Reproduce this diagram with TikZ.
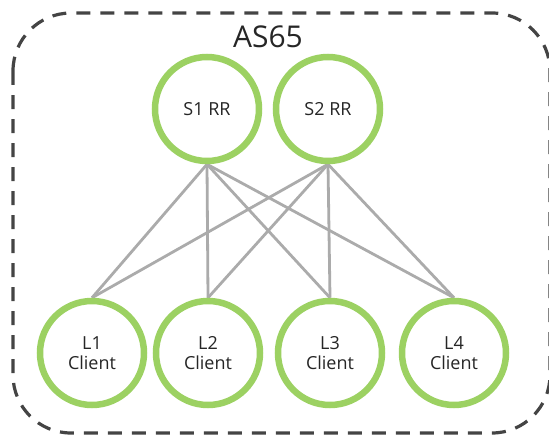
\documentclass[tikz,border=0pt]{standalone}
\usepackage{fontspec}
\setmainfont{Open Sans}
\usetikzlibrary{backgrounds}
\definecolor{ringgreen}{HTML}{9CD162}
\definecolor{linkgray}{HTML}{ABABAB}
\definecolor{dashgray}{HTML}{444444}
\begin{document}
\begin{tikzpicture}[x=1pt,y=-1pt,
  router/.style={circle,draw=ringgreen,line width=6.5pt,fill=white,minimum size=104pt,inner sep=0pt,align=center,font=\fontsize{18}{20.5}\selectfont,text=black!85},
  link/.style={draw=linkgray,line width=2.8pt}]
\useasboundingbox (0,0) rectangle (549,436);
\node[font=\fontsize{30}{34}\selectfont,text=black!85] (title) at (268,37) {AS65};
\node[router] (S1) at (207,109) {S1 RR};
\node[router] (S2) at (328,109) {S2 RR};
\node[router] (L1) at (92,353) {L1\\Client};
\node[router] (L2) at (208,353) {L2\\Client};
\node[router] (L3) at (330,353) {L3\\Client};
\node[router] (L4) at (454,353) {L4\\Client};
\begin{scope}[on background layer]
\draw[dashgray,line width=3.2pt,dash pattern=on 14pt off 10pt,rounded corners=58pt] (13,13) rectangle (550,433);
\foreach \s in {S1,S2}{
  \foreach \l in {L1,L2,L3,L4}{
    \draw[link] (\s.south) -- (\l.north);
  }
}
\end{scope}
\end{tikzpicture}
\end{document}
